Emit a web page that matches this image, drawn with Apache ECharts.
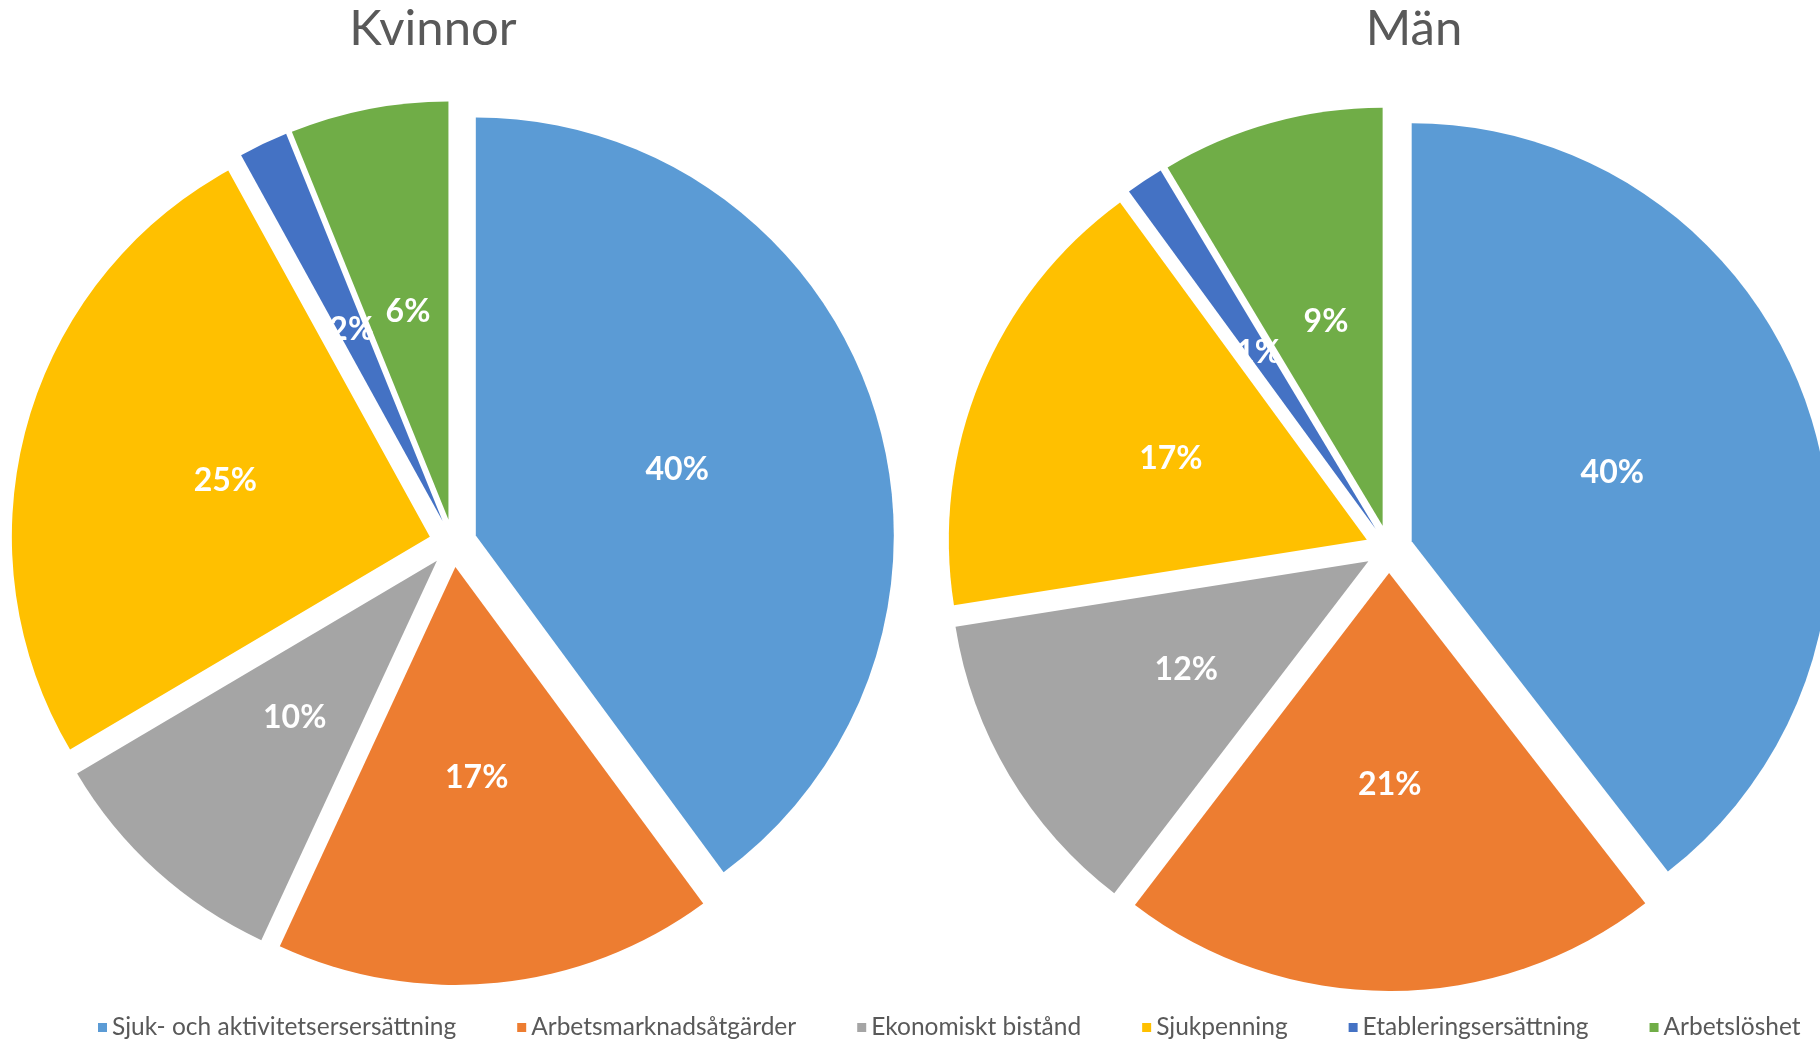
<!DOCTYPE html>
<html>
<head>
<meta charset="utf-8">
<title>Kvinnor / Män</title>
<script src="https://cdn.jsdelivr.net/npm/echarts@6/dist/echarts.min.js"></script>
<style>
    html, body { margin: 0; padding: 0; background: #fff; }
    #pieChart { width: 1820px; height: 1039px; }
</style>
</head>
<body>
<div id="pieChart"></div>
<script>
const categories = [
    'Sjuk- och aktivitetsersersättning',
    'Arbetsmarknadsåtgärder',
    'Ekonomiskt bistånd',
    'Sjukpenning',
    'Etableringsersättning',
    'Arbetslöshet',
];
// andelar i procent
const kvinnorValues = [39.9, 17.0, 9.6, 25.49, 1.9, 6.11];
const manValues = [39.5, 20.9, 12.1, 17.45, 1.45, 8.6];
const titles = ['Kvinnor', 'Män'];

const colors = ['#5B9BD5', '#ED7D31', '#A5A5A5', '#FFC000', '#4472C4', '#70AD47'];
const fontFamily = 'Lato, "Open Sans", sans-serif';

function buildData(values) {
    return categories.map((name, i) => ({
        name: name,
        value: values[i],
        selected: true,
    }));
}

function pieSeries(name, values, center) {
    return {
        name: name,
        type: 'pie',
        radius: 418,
        center: center,
        startAngle: 90,
        clockwise: true,
        selectedMode: 'multiple',
        selectedOffset: 24,
        avoidLabelOverlap: false,
        label: {
            show: true,
            position: 'inside',
            formatter: (p) => Math.round(p.value) + '%',
            color: '#fff',
            fontFamily: fontFamily,
            fontWeight: 'bold',
            fontSize: 32,
        },
        labelLine: { show: false },
        emphasis: { disabled: true },
        data: buildData(values),
    };
}

const chart = echarts.init(document.getElementById('pieChart'));

const titleStyle = { color: '#595959', fontFamily: fontFamily, fontWeight: 'normal', fontSize: 49 };

const option = {
    animation: false,
    color: colors,
    title: [
        { text: titles[0], left: 428, top: 0, textAlign: 'center', textStyle: titleStyle },
        { text: titles[1], left: 1409, top: 0, textAlign: 'center', textStyle: titleStyle },
    ],
    legend: {
        data: categories,
        left: 93,
        top: 1010,
        width: 1725,
        icon: 'rect',
        itemWidth: 9,
        itemHeight: 9,
        itemGap: 61,
        selectedMode: false,
        textStyle: {
            color: '#595959',
            fontFamily: fontFamily,
            fontSize: 24.5,
        },
    },
    series: [
        pieSeries(titles[0], kvinnorValues, [453, 543]),
        pieSeries(titles[1], manValues, [1389, 549]),
    ],
};

chart.setOption(option);
</script>
</body>
</html>
